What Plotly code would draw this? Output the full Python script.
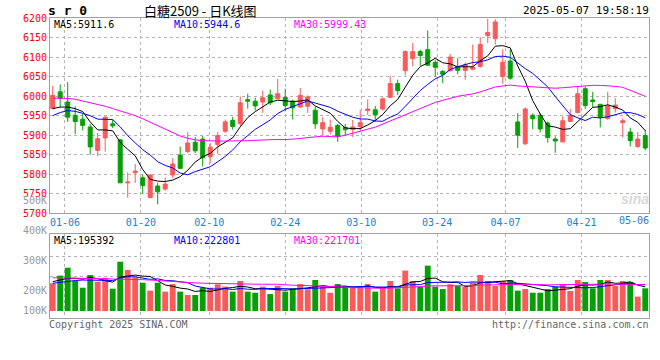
import plotly.graph_objects as go

# ---------------- data ----------------
dates = ["01-02","01-03","01-06","01-07","01-08","01-09","01-10","01-13","01-14","01-15",
         "01-16","01-17","01-20","01-21","01-22","01-23","01-24","01-27","02-05","02-06",
         "02-07","02-10","02-11","02-12","02-13","02-14","02-17","02-18","02-19","02-20",
         "02-21","02-24","02-25","02-26","02-27","02-28","03-03","03-04","03-05","03-06",
         "03-07","03-10","03-11","03-12","03-13","03-14","03-17","03-18","03-19","03-20",
         "03-21","03-24","03-25","03-26","03-27","03-28","03-31","04-01","04-02","04-03",
         "04-07","04-08","04-09","04-10","04-11","04-14","04-15","04-16","04-17","04-18",
         "04-21","04-22","04-23","04-24","04-25","04-28","04-29","04-30","05-06","05-07"]

opens = [5968,6011,5985,5951,5941,5921,5861,5893,5929,5888,
         5778,5804,5791,5740,5770,5762,5798,5849,5858,5882,
         5890,5845,5876,5910,5938,5930,5991,5987,5985,6003,
         5993,5997,5987,5972,5974,5964,5916,5910,5925,5920,
         5915,5922,5963,5965,5967,5997,6032,6065,6096,6114,
         6119,6086,6063,6065,6076,6066,6069,6076,6155,6147,
         6050,6090,5934,5878,5951,5951,5931,5890,5883,5935,
         5958,6019,5990,5979,5943,5968,5932,5908,5871,5899]
highs = [6026,6030,6036,5974,5955,5929,5906,5949,5939,5890,
         5805,5826,5799,5800,5778,5792,5841,5871,5908,5895,
         5898,5880,5908,5940,5947,5999,6006,5996,6014,6017,
         6044,6019,5991,6021,6002,5974,5947,5940,5929,5929,
         5939,5965,5992,5975,5997,6052,6042,6117,6136,6119,
         6168,6093,6067,6108,6097,6086,6132,6151,6198,6197,
         6120,6120,5956,5971,5956,5956,5935,5897,5948,5967,
         6025,6025,6011,5980,6011,5995,5943,5919,5908,5914]
lows = [5966,5972,5934,5903,5912,5850,5846,5858,5918,5778,
        5740,5778,5749,5740,5723,5758,5790,5815,5854,5854,
        5820,5828,5852,5906,5914,5923,5968,5963,5957,5977,
        5993,5961,5940,5970,5957,5916,5900,5902,5883,5900,
        5895,5909,5952,5935,5963,5995,6003,6053,6076,6078,
        6078,6050,6033,6063,6056,6042,6066,6073,6136,6132,
        6032,6042,5867,5875,5915,5907,5881,5855,5881,5935,
        5956,5967,5972,5920,5939,5958,5894,5871,5867,5861]
closes = [6002,5994,5946,5935,5925,5870,5891,5946,5924,5778,
          5780,5808,5771,5798,5755,5775,5826,5815,5880,5860,
          5842,5869,5899,5934,5922,5983,5987,5975,5996,5983,
          6006,5976,5970,6002,5998,5929,5932,5920,5897,5914,
          5921,5932,5967,5952,5993,6032,6014,6114,6114,6104,
          6079,6074,6056,6100,6066,6080,6074,6132,6163,6190,
          6087,6046,5900,5967,5942,5916,5894,5885,5937,5951,
          6006,5976,5986,5946,5975,5977,5937,5886,5890,5867]
# volume (thousand lots)
volumes_k = [227,290,355,246,191,295,240,273,183,404,
             336,276,232,167,232,159,221,159,131,131,
             191,191,219,200,159,246,159,150,200,139,
             205,159,186,221,178,254,200,150,221,200,
             200,186,221,159,186,246,186,331,246,200,
             372,200,180,219,205,200,235,295,246,205,
             246,254,167,180,150,150,180,200,221,164,
             254,238,186,254,254,205,246,238,118,186]
volumes = [v * 1000 for v in volumes_k]

# moving-average values at the start of the window (read off the chart,
# they depend on sessions before the first visible day)
ma5_head = [5968, 5972, 5972, 5968]
ma10_head = [5950, 5958, 5963, 5961, 5956, 5950, 5941, 5940, 5940]
ma30_head = [5995, 5995, 5994, 5992, 5988, 5983, 5979, 5974, 5968, 5962,
             5956, 5950, 5942, 5933, 5924, 5914, 5906, 5898, 5892, 5888,
             5886, 5885, 5885, 5885, 5885, 5886, 5886, 5887, 5888]
vma5_head = [240e3, 255e3, 268e3, 268e3]
vma10_head = [227e3, 235e3, 246e3, 250e3, 254e3, 254e3, 254e3, 254e3, 250e3]
vma30_head = [273e3, 272e3, 270e3, 269e3, 268e3, 268e3, 268e3, 265e3, 263e3, 262e3,
              262e3, 260e3, 257e3, 254e3, 249e3, 244e3, 240e3, 236e3, 233e3, 230e3,
              228e3, 226e3, 225e3, 224e3, 223e3, 222e3, 221e3, 220e3, 219e3]

grid_dates = ["01-06", "01-20", "02-10", "02-24", "03-10", "03-24", "04-07", "04-21"]
last_label = "05-06"
price_ticks = [5700, 5750, 5800, 5850, 5900, 5950, 6000, 6050, 6100, 6150, 6200]

title_code = "s r 0"
title_name = "白糖2509 - 日K线图"
stamp = "2025-05-07 19:58:19"
ma_price_text = ["MA5:5911.6", "MA10:5944.6", "MA30:5999.43"]
ma_vol_text = ["MA5:195392", "MA10:222801", "MA30:221701"]
vol_labels = ["500K", "400K", "300K", "200K", "100K"]

# ---------------- helpers ----------------
def rolling(vals, n, head):
    out = list(head)
    for i in range(len(head), len(vals)):
        out.append(sum(vals[i - n + 1:i + 1]) / n)
    return out

N = len(dates)
idx = list(range(N))
ma5 = rolling(closes, 5, ma5_head)
ma10 = rolling(closes, 10, ma10_head)
ma30 = rolling(closes, 30, ma30_head)
vma5 = rolling(volumes, 5, vma5_head)
vma10 = rolling(volumes, 10, vma10_head)
vma30 = rolling(volumes, 30, vma30_head)

RED = "#fa5a5a"
GREEN = "#06a006"
MONO = "DejaVu Sans Mono"
GRID = "#b4b4b4"
BORDER = "#a0a0a0"

# chart date labels are spaced over N-1 slots, candles over N slots
grid_idx = [dates.index(d) for d in grid_dates]
grid_pos = [i * N / (N - 1) - 0.39 for i in grid_idx]

W, H = 660, 360
ML, MR, MT, MB = 50, 11, 18, 42
PH = H - MT - MB

def py(ypix):
    return (H - MB - ypix) / PH

vol_colors = [RED if c >= o else GREEN for o, c in zip(opens, closes)]

fig = go.Figure()
fig.add_trace(go.Candlestick(
    x=idx, open=opens, high=highs, low=lows, close=closes,
    increasing=dict(line=dict(color=RED, width=1), fillcolor=RED),
    decreasing=dict(line=dict(color=GREEN, width=1), fillcolor=GREEN),
    whiskerwidth=0, showlegend=False, hoverinfo="skip", xaxis="x", yaxis="y"))
for ys, col in [(ma5, "#000000"), (ma10, "#0000ff"), (ma30, "#ff00ff")]:
    fig.add_trace(go.Scatter(x=idx, y=ys, mode="lines", line=dict(color=col, width=1),
                             showlegend=False, hoverinfo="skip", xaxis="x", yaxis="y"))
fig.add_trace(go.Bar(x=idx, y=volumes, marker=dict(color=vol_colors, line=dict(width=0)),
                     width=0.78, showlegend=False, hoverinfo="skip", xaxis="x2", yaxis="y2"))
for ys, col in [(vma5, "#000000"), (vma10, "#0000ff"), (vma30, "#ff00ff")]:
    fig.add_trace(go.Scatter(x=idx, y=ys, mode="lines", line=dict(color=col, width=1),
                             showlegend=False, hoverinfo="skip", xaxis="x2", yaxis="y2"))

xr = [-0.36, 79.5]
# volume scale: 0 at pixel 311, ~8.2K per pixel
vol_per_px = 8200
v_bottom = -(318 - 311) * vol_per_px
v_top = (311 - 234.3) * vol_per_px
vgrid = [(311 - 256) * vol_per_px, (311 - 276) * vol_per_px]

common_x = dict(range=xr, showline=True, mirror=True, linecolor=BORDER, linewidth=1,
                showgrid=True, gridcolor=GRID, griddash="dot", gridwidth=1,
                zeroline=False, ticks="", tickvals=grid_pos, fixedrange=True, automargin=False)

fig.update_layout(
    width=W, height=H, margin=dict(l=ML, r=MR, t=MT, b=MB, autoexpand=False),
    paper_bgcolor="white", plot_bgcolor="white",
    boxgap=0.24,
    xaxis=dict(common_x, anchor="y", ticktext=grid_dates, showticklabels=True,
               tickfont=dict(family=MONO, size=10, color="#1a7fd4"), rangeslider=dict(visible=False)),
    yaxis=dict(domain=[py(213.3), 1], range=[5700, 6200], tickvals=price_ticks,
               showline=True, mirror=True, linecolor=BORDER, linewidth=1, automargin=False,
               showgrid=True, gridcolor=GRID, griddash="dot", zeroline=False, ticks="",
               tickfont=dict(family=MONO, size=10, color="#ff0000")),
    xaxis2=dict(common_x, anchor="y2", matches="x", showticklabels=False),
    yaxis2=dict(domain=[0, py(234.3)], range=[v_bottom, v_top], tickvals=vgrid, automargin=False,
                showticklabels=False, showline=True, mirror=True, linecolor=BORDER, linewidth=1,
                showgrid=True, gridcolor=GRID, griddash="dot", zeroline=False, ticks=""),
)

ann = []
def text(x, y, s, color="#000", size=10, xanchor="left", family=MONO, **kw):
    ann.append(dict(xref="paper", yref="paper", x=(x - ML) / (W - ML - MR), y=py(y),
                    text=s, showarrow=False, xanchor=xanchor, yanchor="middle",
                    font=dict(family=family, size=size, color=color), **kw))

text(46, 11, "<b>" + title_code + "</b>", size=13)
text(200, 11, title_name, size=13, xanchor="center", family="Noto Sans CJK SC")
text(651, 11, stamp, size=11, xanchor="right")
text(52, 24, ma_price_text[0], color="#000000")
text(172, 24, ma_price_text[1], color="#0000ff")
text(292, 24, ma_price_text[2], color="#ff00ff")
text(52, 240, ma_vol_text[0], color="#000000")
text(172, 240, ma_vol_text[1], color="#0000ff")
text(292, 240, ma_vol_text[2], color="#ff00ff")
for lab, yy in zip(vol_labels, [200, 230, 260.7, 290.7, 310.7]):
    text(49, yy, lab, color="#999999", xanchor="right")
text(651, 220, last_label, color="#1a7fd4", xanchor="right")
text(47, 324, "Copyright 2025 SINA.COM", color="#666666")
text(651, 324, "http://finance.sina.com.cn", color="#666666", xanchor="right")
text(651, 199, "<b><i>sina</i></b>", color="#d8d8d8", size=14, xanchor="right", family="Liberation Sans")
fig.update_layout(annotations=ann)

fig.write_html("out.html", config={"displayModeBar": False, "staticPlot": True},
               post_script="document.body.style.margin='0';document.body.style.padding='0';")
